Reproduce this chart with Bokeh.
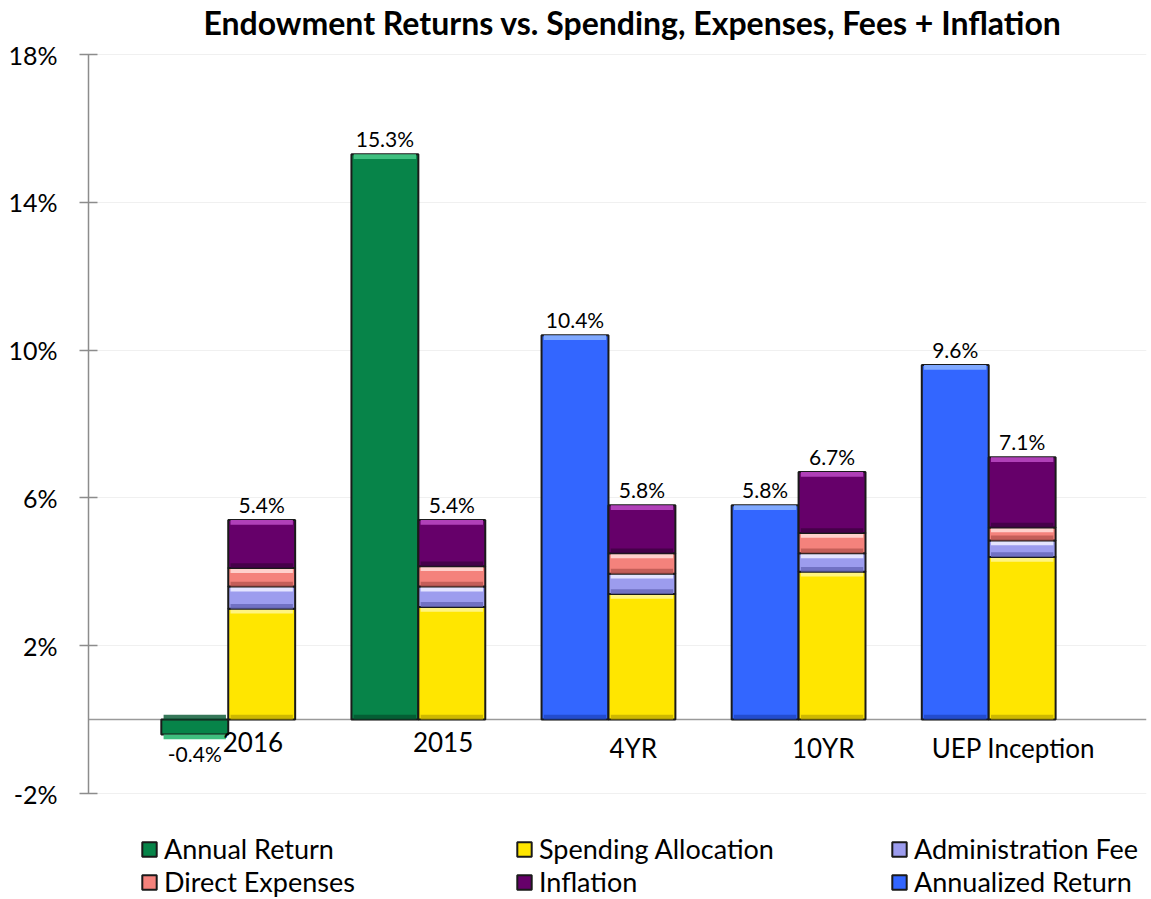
import numpy as np
from bokeh.plotting import figure
from bokeh.models import (ColumnDataSource, FixedTicker, PrintfTickFormatter, Span,
                          Legend, LegendItem, Range1d, Label)
from bokeh.core.properties import value
from bokeh.embed import file_html
from bokeh.resources import INLINE

# ---------------- data ----------------
categories = ["2016", "2015", "4YR", "10YR", "UEP Inception"]
annual_return = [-0.4, 15.3, np.nan, np.nan, np.nan]
annualized_return = [np.nan, np.nan, 10.4, 5.8, 9.6]
spending_allocation = [3.0, 3.05, 3.4, 4.0, 4.4]
administration_fee = [0.6, 0.55, 0.55, 0.5, 0.45]
direct_expenses = [0.5, 0.55, 0.55, 0.55, 0.35]
inflation = [1.3, 1.25, 1.3, 1.65, 1.9]
y_ticks = [-2, 2, 6, 10, 14, 18]
title_text = "Endowment Returns vs. Spending, Expenses, Fees + Inflation"

# ---------------- style ----------------
FONT = "Lato"
W = 0.352          # bar width (x units)
BEV = 0.13         # bevel strip height (y units)
INSET = 0.012      # bevel strip horizontal inset (x units)
STYLE = {
    "annual":     ("#078449", "#3fbf7f", "#04552f"),
    "annualized": ("#3366ff", "#7fa8ff", "#1f46c2"),
    "spending":   ("#ffe600", "#fff480", "#c2ad00"),
    "admin":      ("#9c9cee", "#e4e4ff", "#6767b8"),
    "direct":     ("#f4827c", "#ffd0cc", "#b85550"),
    "inflation":  ("#66006a", "#b040b8", "#3f0042"),
}

x = np.arange(len(categories))
FRAME_H = 899
TOP_PAD = 54       # px from page top to the 18% line
Y_TOP = 18.0
PX_PER_UNIT = 739 / 20.0
y_end = Y_TOP + TOP_PAD / PX_PER_UNIT
y_start = Y_TOP - (FRAME_H - TOP_PAD) / PX_PER_UNIT

p = figure(frame_width=1058, frame_height=FRAME_H,
           x_range=Range1d(-0.735, 4.83), y_range=Range1d(y_start, y_end),
           x_axis_location=None,
           output_backend="svg", toolbar_location=None,
           min_border_left=88, min_border_right=5, min_border_top=0, min_border_bottom=0)

p.outline_line_color = None
p.xgrid.visible = False
p.ygrid.grid_line_color = "#f0f0f0"
p.ygrid.grid_line_width = 1.2
p.ygrid.bounds = (-2, 18)

yax = p.yaxis[0]
yax.ticker = FixedTicker(ticks=y_ticks)
yax.bounds = (-2, 18)
yax.formatter = PrintfTickFormatter(format="%d%%")
yax.axis_line_color = "#8c8c8c"
yax.axis_line_width = 1.5
yax.major_tick_line_color = "#8c8c8c"
yax.major_tick_line_width = 1.5
yax.major_tick_in = 9
yax.major_tick_out = 9
yax.minor_tick_line_color = None
yax.major_label_standoff = 22
yax.major_label_text_font = FONT
yax.major_label_text_font_size = "25px"
yax.major_label_text_color = "black"

# title inside the (extended) frame
p.add_layout(Label(x=544, y=FRAME_H - 22, x_units="screen", y_units="screen",
                   text=title_text, text_align="center", text_baseline="middle",
                   text_font=FONT, text_font_size="32px", text_font_style="bold",
                   text_color="black"))

p.add_layout(Span(location=0, dimension="width", line_color="#9a9a9a", line_width=1.5, level="underlay"))


def bevel_bar(xc, bottom, top, key):
    base, light, dark = STYLE[key]
    xc = np.asarray(xc, float)
    bottom = np.asarray(bottom, float)
    top = np.asarray(top, float)
    ok = np.isfinite(top) & np.isfinite(bottom)
    xc, bottom, top = xc[ok], bottom[ok], top[ok]
    src = ColumnDataSource(dict(x=xc, b=bottom, t=top,
                                tb=top - BEV, bt=bottom + BEV))
    r = p.vbar(x="x", bottom="b", top="t", width=W, source=src,
               fill_color=base, line_color="#1a1a1a", line_width=2)
    p.vbar(x="x", bottom="tb", top="t", width=W - 2 * INSET, source=src,
           fill_color=light, line_color=None)
    p.vbar(x="x", bottom="b", top="bt", width=W - 2 * INSET, source=src,
           fill_color=dark, line_color=None, fill_alpha=0.8)
    return r


zeros = np.zeros(len(categories))
g_ren = bevel_bar(x - W / 2, zeros, annual_return, "annual")
b_ren = bevel_bar(x - W / 2, zeros, annualized_return, "annualized")

stack_vals = [spending_allocation, administration_fee, direct_expenses, inflation]
stack_keys = ["spending", "admin", "direct", "inflation"]
cum = np.zeros(len(categories))
seg_ren = {}
for vals, key in zip(stack_vals, stack_keys):
    top = cum + np.asarray(vals, float)
    seg_ren[key] = bevel_bar(x + W / 2, cum, top, key)
    cum = top

# data labels
tot = list(cum)
ret_all = [a if not np.isnan(a) else b for a, b in zip(annual_return, annualized_return)]
pos = [i for i, v in enumerate(ret_all) if v >= 0]
neg = [i for i, v in enumerate(ret_all) if v < 0]

lab_pos = ColumnDataSource(dict(x=[x[i] - W / 2 for i in pos], y=[ret_all[i] for i in pos],
                                t=[f"{ret_all[i]:.1f}%" for i in pos]))
lab_neg = ColumnDataSource(dict(x=[x[i] - W / 2 for i in neg], y=[ret_all[i] for i in neg],
                                t=[f"{ret_all[i]:.1f}%" for i in neg]))
lab_tot = ColumnDataSource(dict(x=list(x + W / 2), y=tot, t=[f"{v:.1f}%" for v in tot]))

for s, base, off in [(lab_pos, "bottom", -3), (lab_tot, "bottom", -3), (lab_neg, "top", 7)]:
    p.text(x="x", y="y", text="t", source=s, text_align="center", text_baseline=base,
           y_offset=off, text_font=value(FONT), text_font_size="21px", text_color="black")

# category labels next to the zero line
cat_src = ColumnDataSource(dict(x=list(x + 0.13), y=[0] * len(categories), t=categories))
p.text(x="x", y="y", text="t", source=cat_src, text_align="center", text_baseline="top",
       y_offset=12, text_font=value(FONT), text_font_size="26px", text_color="black")

# legends: three columns, two rows
cols = [
    [("Annual Return", g_ren), ("Direct Expenses", seg_ren["direct"])],
    [("Spending Allocation", seg_ren["spending"]), ("Inflation", seg_ren["inflation"])],
    [("Administration Fee", seg_ren["admin"]), ("Annualized Return", b_ren)],
]
for k, col in enumerate(cols):
    leg = Legend(items=[LegendItem(label=l, renderers=[r]) for l, r in col],
                 location=(52 + 375 * k, 1), orientation="vertical",
                 padding=0, margin=0, spacing=0, border_line_alpha=0,
                 background_fill_alpha=0, glyph_width=18, glyph_height=18,
                 label_height=28, label_standoff=6,
                 label_text_font=FONT, label_text_font_size="27px", label_text_color="black")
    p.add_layout(leg)

open("out.html", "w").write(file_html(p, INLINE))
